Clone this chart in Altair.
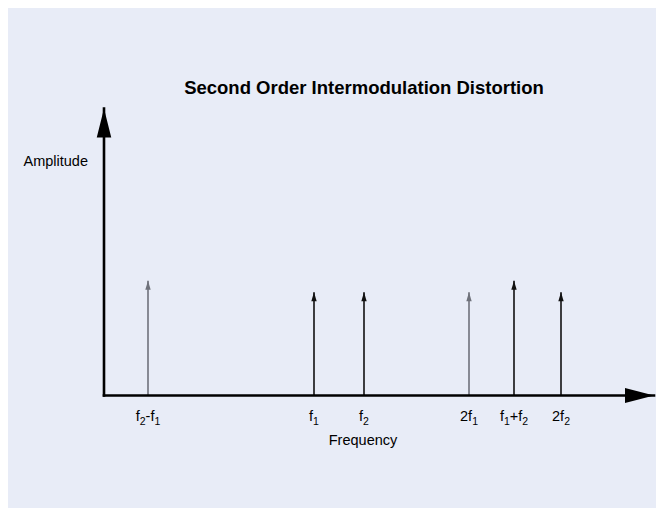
import altair as alt
import pandas as pd

# Spectral lines (schematic units)
labels = ["f₂-f₁", "f₁", "f₂", "2f₁", "f₁+f₂", "2f₂"]
freq = [8.8, 42, 52, 73, 82, 91.4]
amp = [40, 36, 36, 36, 40, 36]
gray_labels = ["f₂-f₁", "2f₁"]

# Axis extents (schematic units)
axis_freq_end = [110]
axis_amp_end = [100]

title_text = "Second Order Intermodulation Distortion"
x_title = "Frequency"
y_title = "Amplitude"

FONT = "Liberation Sans"
BG = "#E8ECF7"

W, H = 648, 500
X_DOMAIN = [-19.2, 110.4]
Y_DOMAIN = [-39.2, 135]
PX_PER_X = W / (X_DOMAIN[1] - X_DOMAIN[0])

MAIN_SIZE = 14.5
SUB_SIZE = 10.5
# Arial / Liberation Sans advance widths (per 1000 em)
ADV = {"f": 278, "1": 556, "2": 556, "-": 333, "+": 584}
SUBS = {"₁": "1", "₂": "2"}

# split each label into normal / subscript runs and lay them out side by side
seg_rows = []
for lab, fx in zip(labels, freq):
    runs = []
    for ch in lab:
        sub = ch in SUBS
        c = SUBS.get(ch, ch)
        if runs and runs[-1][1] == sub:
            runs[-1][0] += c
        else:
            runs.append([c, sub])
    widths = [sum(ADV[c] for c in t) / 1000 * (SUB_SIZE if s else MAIN_SIZE) for t, s in runs]
    start = -sum(widths) / 2
    for (t, s), w in zip(runs, widths):
        seg_rows.append({"label": lab, "seg": t, "sub": s, "x": fx + start / PX_PER_X, "y": 0})
        start += w
segs = pd.DataFrame(seg_rows)

spikes = pd.DataFrame({"label": labels, "freq": freq, "amp": amp, "zero": [0] * len(freq)})
x_axis = pd.DataFrame({"x0": [0], "x1": axis_freq_end, "y": [0]})
y_axis = pd.DataFrame({"x": [0], "y0": [0], "y1": axis_amp_end})
x_head = pd.DataFrame({"x": axis_freq_end, "y": [0]})
y_head = pd.DataFrame({"x": [0], "y": axis_amp_end})
annot = pd.DataFrame({
    "text": [title_text, x_title, y_title],
    "x": [52, 51.8, -3.2],
    "y": [107.1, -16, 81.4],
})

xs = alt.Scale(domain=X_DOMAIN, nice=False, zero=False)
ys = alt.Scale(domain=Y_DOMAIN, nice=False, zero=False)

color_cond = alt.condition(
    alt.FieldOneOfPredicate(field="label", oneOf=gray_labels),
    alt.value("#6f727b"),
    alt.value("#111111"),
)

spike_rules = alt.Chart(spikes).mark_rule(strokeWidth=1.6).encode(
    x=alt.X("freq:Q", scale=xs, axis=None),
    y=alt.Y("zero:Q", scale=ys, axis=None),
    y2="amp:Q",
    color=color_cond,
)

spike_heads = alt.Chart(spikes).mark_point(
    shape="M0,0L-0.3,1L0.3,1Z", size=324, filled=True, opacity=1, strokeWidth=0
).encode(
    x=alt.X("freq:Q", scale=xs, axis=None),
    y=alt.Y("amp:Q", scale=ys, axis=None),
    color=color_cond,
)

label_main = alt.Chart(segs).transform_filter("!datum.sub").mark_text(
    font=FONT, fontSize=MAIN_SIZE, baseline="alphabetic", align="left", dy=25.5, color="#000"
).encode(
    x=alt.X("x:Q", scale=xs, axis=None),
    y=alt.Y("y:Q", scale=ys, axis=None),
    text="seg:N",
)
label_sub = alt.Chart(segs).transform_filter("datum.sub").mark_text(
    font=FONT, fontSize=SUB_SIZE, baseline="alphabetic", align="left", dy=29.5, color="#000"
).encode(
    x=alt.X("x:Q", scale=xs, axis=None),
    y=alt.Y("y:Q", scale=ys, axis=None),
    text="seg:N",
)

xaxis_rule = alt.Chart(x_axis).mark_rule(strokeWidth=2.6, color="#000", strokeCap="square").encode(
    x=alt.X("x0:Q", scale=xs, axis=None),
    x2="x1:Q",
    y=alt.Y("y:Q", scale=ys, axis=None),
)
yaxis_rule = alt.Chart(y_axis).mark_rule(strokeWidth=2.6, color="#000", strokeCap="square").encode(
    x=alt.X("x:Q", scale=xs, axis=None),
    y=alt.Y("y0:Q", scale=ys, axis=None),
    y2="y1:Q",
)
xaxis_head = alt.Chart(x_head).mark_point(
    shape="M0,0L-1,-0.26L-1,0.26Z", size=3364, filled=True, opacity=1, color="#000", strokeWidth=0
).encode(
    x=alt.X("x:Q", scale=xs, axis=None),
    y=alt.Y("y:Q", scale=ys, axis=None),
)
yaxis_head = alt.Chart(y_head).mark_point(
    shape="M0,0L-0.25,1L0.25,1Z", size=3364, filled=True, opacity=1, color="#000", strokeWidth=0
).encode(
    x=alt.X("x:Q", scale=xs, axis=None),
    y=alt.Y("y:Q", scale=ys, axis=None),
)

title_layer = alt.Chart(annot.iloc[[0]]).mark_text(
    font=FONT, fontSize=18.5, fontWeight="bold", baseline="middle", align="center", color="#000"
).encode(
    x=alt.X("x:Q", scale=xs, axis=None),
    y=alt.Y("y:Q", scale=ys, axis=None),
    text="text:N",
)
xtitle_layer = alt.Chart(annot.iloc[[1]]).mark_text(
    font=FONT, fontSize=14.5, baseline="middle", align="center", color="#000"
).encode(
    x=alt.X("x:Q", scale=xs, axis=None),
    y=alt.Y("y:Q", scale=ys, axis=None),
    text="text:N",
)
ytitle_layer = alt.Chart(annot.iloc[[2]]).mark_text(
    font=FONT, fontSize=14.5, baseline="middle", align="right", color="#000"
).encode(
    x=alt.X("x:Q", scale=xs, axis=None),
    y=alt.Y("y:Q", scale=ys, axis=None),
    text="text:N",
)

chart = alt.layer(
    spike_rules, spike_heads, label_main, label_sub,
    xaxis_rule, yaxis_rule, xaxis_head, yaxis_head,
    title_layer, xtitle_layer, ytitle_layer,
).properties(
    width=W, height=H, background=BG, padding=0,
    autosize=alt.AutoSizeParams(type="none"),
).configure_view(stroke=None)

chart.save("out.html", embed_options={"renderer": "svg", "actions": False})
